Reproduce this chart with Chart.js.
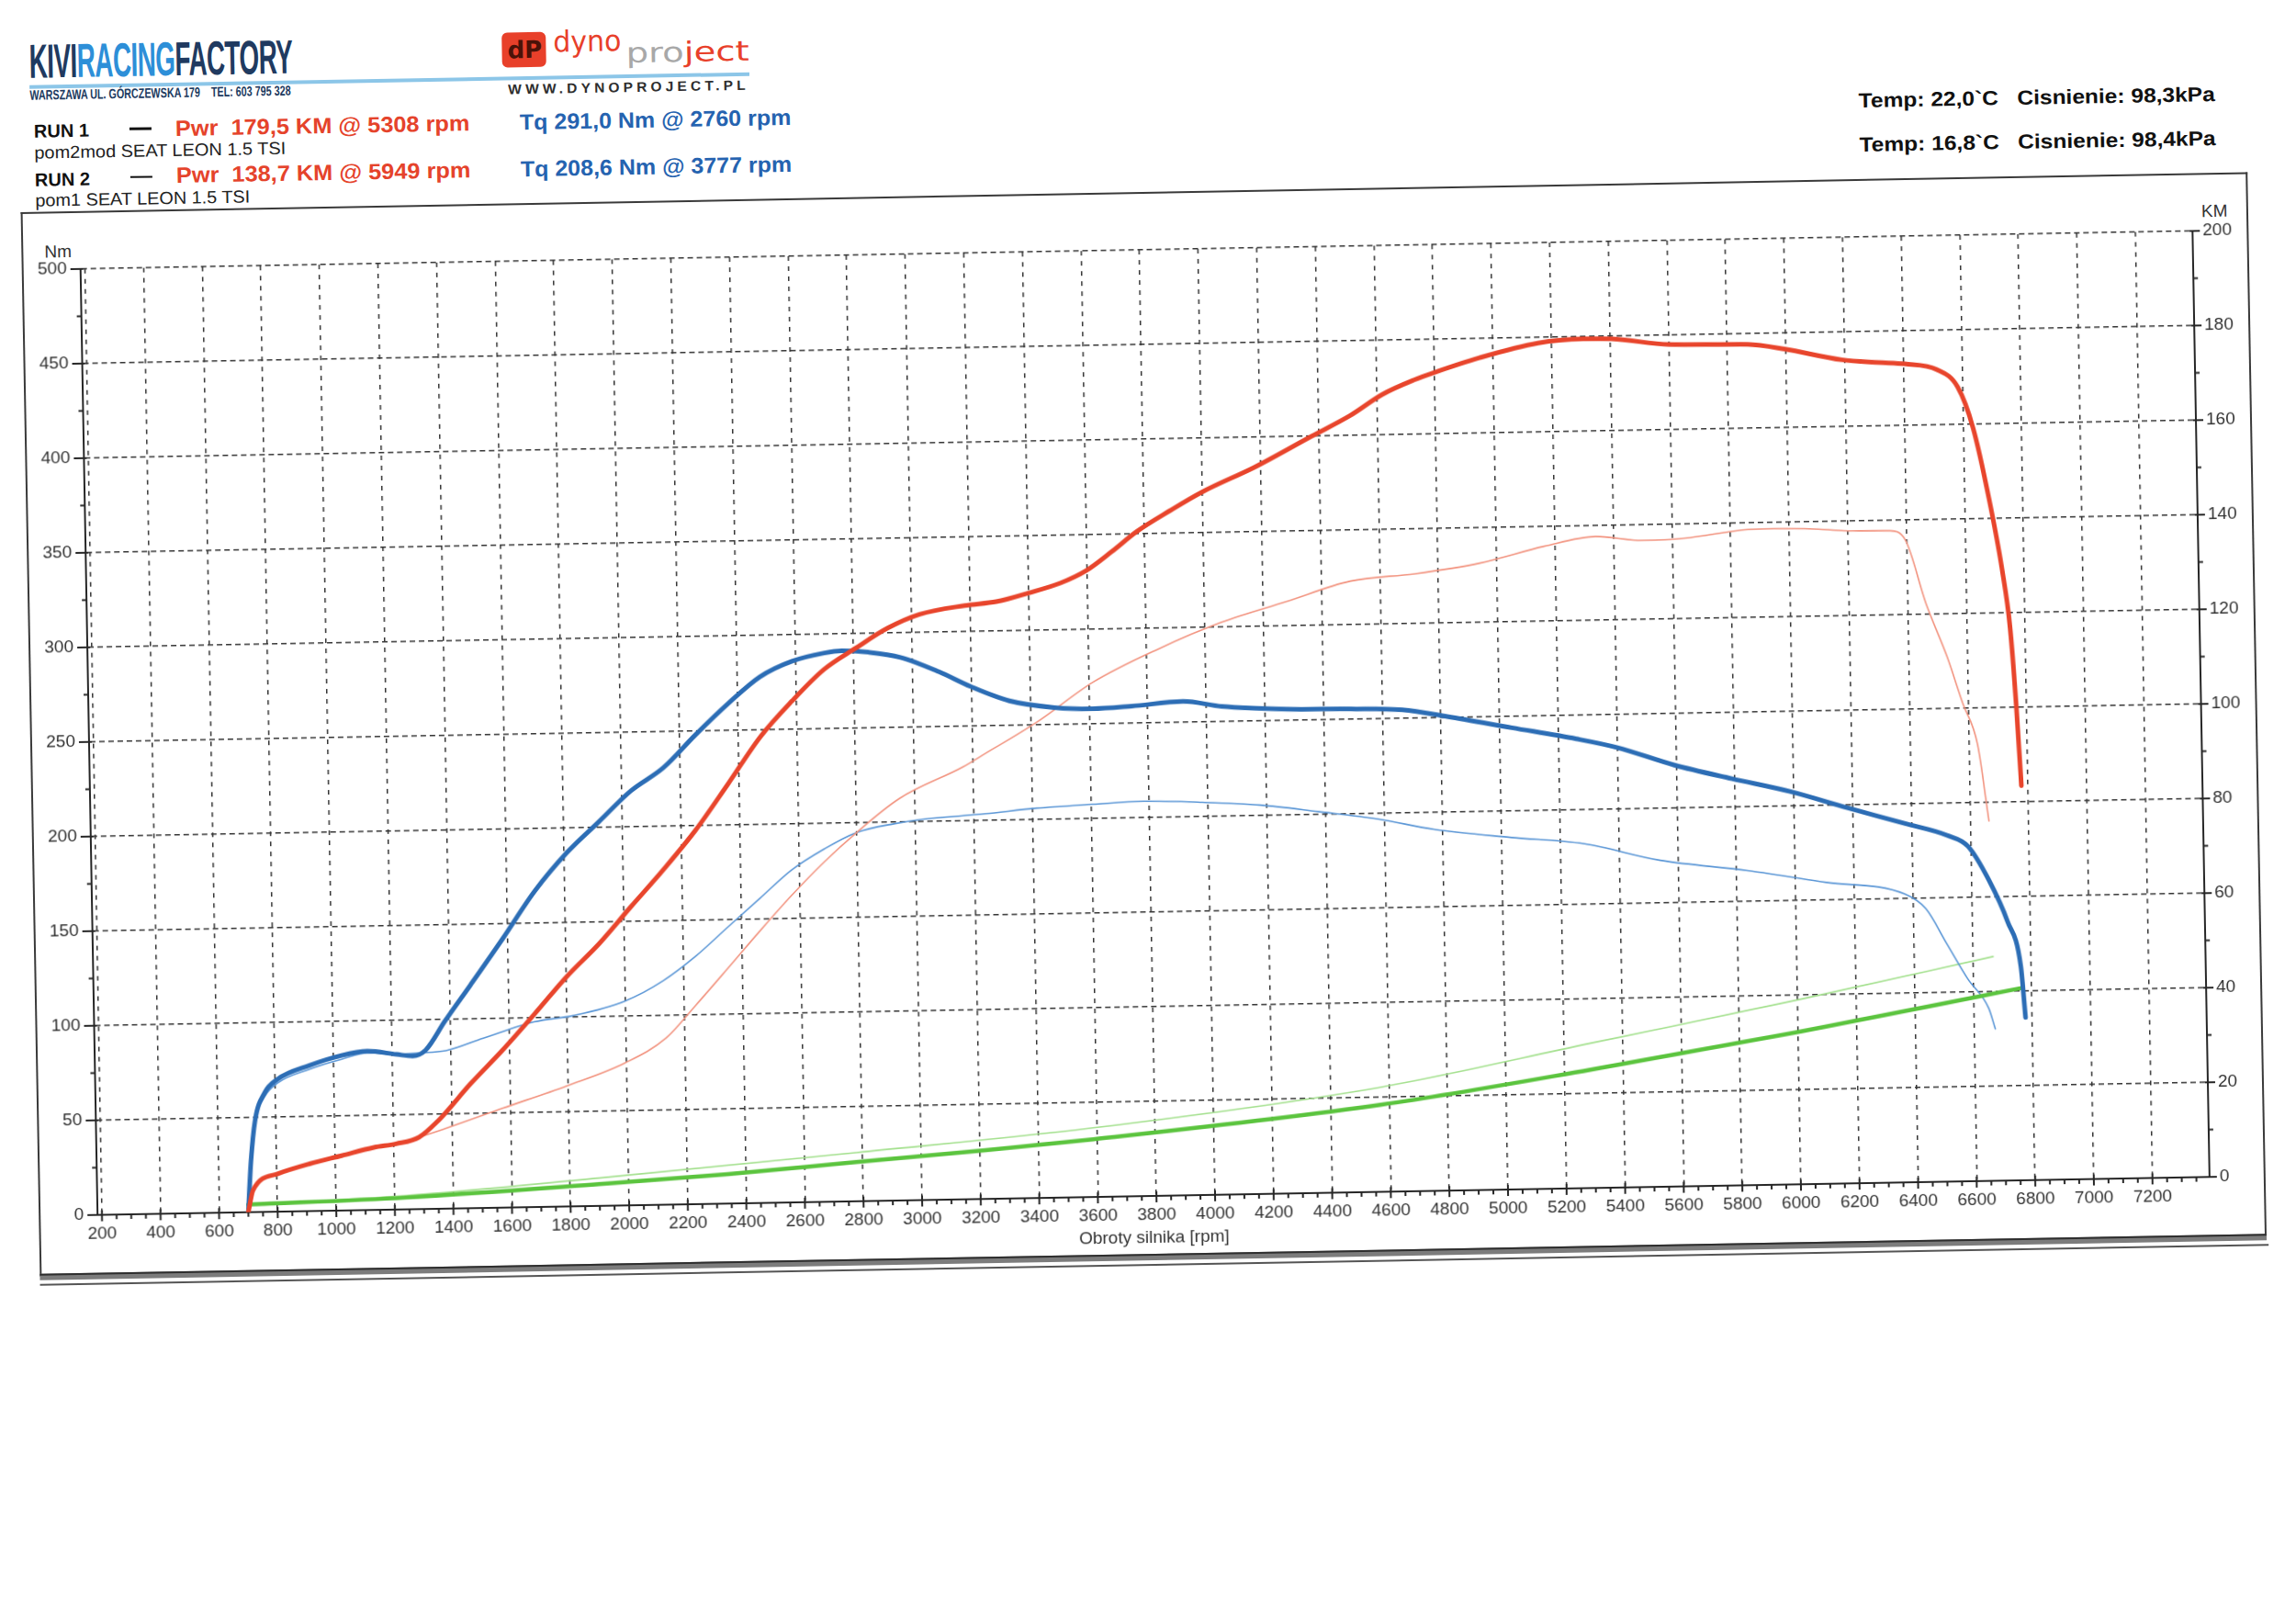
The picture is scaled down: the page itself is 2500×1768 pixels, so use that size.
<!DOCTYPE html>
<html>
<head>
<meta charset="utf-8">
<script src="https://cdn.jsdelivr.net/npm/chart.js@4.4.1/dist/chart.umd.min.js"></script>
<style>
html, body { margin: 0; padding: 0; background: #fff; }
body { width: 2500px; height: 1768px; overflow: hidden; position: relative; }
#page { position: absolute; left: 0; top: 0; width: 2500px; height: 1768px;
        transform-origin: 1250px 800px; transform: rotate(-1.03deg);
        font-family: "Liberation Sans", Arial, sans-serif; }
.t { position: absolute; white-space: nowrap; transform-origin: left center; }
.b { font-weight: bold; }
#frame { position: absolute; left: 33px; top: 209px; width: 2421px; height: 1157px;
         border: 2px solid #3a3a3a; border-bottom: none; }
#band { position: absolute; left: 33px; top: 1365px; width: 2425px; height: 5px;
        background: #7c7c7c; border-top: 2px solid #2e2e2e; }
#band2 { position: absolute; left: 33px; top: 1376px; width: 2427px; height: 2px; background: #555; }
#dyno { position: absolute; left: 33px; top: 209px; }
</style>
</head>
<body>
<div id="page">
  <div class="t b" data-w="287" style="left:45px;top:19px;font-size:52px;line-height:52px;font-family:'Liberation Sans Narrow','Liberation Sans',sans-serif;letter-spacing:-1px">
    <span style="color:#203a60">KIVI</span><span style="color:#2d8fd8">RACING</span><span style="color:#203a60">FACTORY</span></div>
  <div style="position:absolute;left:45px;top:71px;width:784px;height:4px;background:#8cc6e8"></div>
  <div class="t b" data-w="284" style="left:45px;top:74px;font-size:15px;line-height:15px;color:#203a60;font-family:'Liberation Sans Narrow','Liberation Sans',sans-serif">WARSZAWA UL. GÓRCZEWSKA 179&nbsp;&nbsp;&nbsp;&nbsp;TEL: 603 795 328</div>

  <div style="position:absolute;left:560px;top:23px;width:48px;height:38px;background:#e8402a;border-radius:6px"></div>
  <div class="t b" style="left:566px;top:27px;font-size:26px;line-height:30px;color:#4a1208;font-family:'DejaVu Sans',sans-serif">dP</div>
  <div class="t" data-w="74" style="left:616px;top:19px;font-size:32px;line-height:30px;color:#e8402a;font-family:'DejaVu Sans',sans-serif">dyno</div>
  <div class="t" data-w="134" style="left:695px;top:33px;font-size:30px;line-height:30px;font-family:'DejaVu Sans',sans-serif"><span style="color:#a8a8a8">pro</span><span style="color:#e8402a">ject</span></div>
  <div class="t b" data-w="263" style="left:566px;top:77px;font-size:15px;line-height:15px;color:#2e2e2e;letter-spacing:4px">WWW.DYNOPROJECT.PL</div>

  <div class="t b" style="left:49px;top:111px;font-size:20px;line-height:20px;color:#111">RUN 1</div>
  <div style="position:absolute;left:153px;top:119px;width:24px;height:3px;background:#111"></div>
  <div class="t b" data-w="321" style="left:203px;top:109px;font-size:24px;line-height:24px;color:#e5432b">Pwr&nbsp; 179,5 KM @ 5308 rpm</div>
  <div class="t b" data-w="296" style="left:578px;top:109px;font-size:24px;line-height:24px;color:#2563b0">Tq 291,0 Nm @ 2760 rpm</div>
  <div class="t" data-w="274" style="left:49px;top:135px;font-size:19px;line-height:19px;color:#222">pom2mod SEAT LEON 1.5 TSI</div>

  <div class="t b" style="left:49px;top:164px;font-size:20px;line-height:20px;color:#111">RUN 2</div>
  <div style="position:absolute;left:153px;top:172px;width:24px;height:1.5px;background:#111"></div>
  <div class="t b" data-w="321" style="left:203px;top:160px;font-size:24px;line-height:24px;color:#e5432b">Pwr&nbsp; 138,7 KM @ 5949 rpm</div>
  <div class="t b" data-w="296" style="left:578px;top:160px;font-size:24px;line-height:24px;color:#2563b0">Tq 208,6 Nm @ 3777 rpm</div>
  <div class="t" data-w="234" style="left:49px;top:187px;font-size:19px;line-height:19px;color:#222">pom1 SEAT LEON 1.5 TSI</div>

  <div class="t b" data-w="388" style="left:2036px;top:113px;font-size:22px;line-height:22px;color:#111">Temp: 22,0`C&nbsp;&nbsp; Cisnienie: 98,3kPa</div>
  <div class="t b" data-w="388" style="left:2036px;top:161px;font-size:22px;line-height:22px;color:#111">Temp: 16,8`C&nbsp;&nbsp; Cisnienie: 98,4kPa</div>

  <div id="frame"></div>
  <div id="band"></div>
  <div id="band2"></div>
  <div class="t" style="left:58px;top:243px;font-size:19px;line-height:19px;color:#333">Nm</div>
  <div class="t" style="left:2407px;top:241px;font-size:19px;line-height:19px;color:#333">KM</div>
  <canvas id="dyno" width="2423" height="1157"></canvas>
</div>
<script>
// RUN 1 (pom2mod) - thick lines
const run1PwrRpm = [700, 717, 802, 912, 1022, 1132, 1209, 1287, 1353, 1466, 1576, 1690, 1801, 1913, 2024, 2137, 2249, 2361, 2476, 2587, 2697, 2807, 2917, 3027, 3181, 3290, 3400, 3510, 3598, 3686, 3774, 3889, 3999, 4178, 4377, 4509, 4619, 4730, 4800, 4953, 5154, 5308, 5405, 5601, 5870, 5995, 6191, 6316, 6405, 6513, 6584, 6634, 6684, 6724, 6748, 6764, 6777];
const run1Pwr = [0, 4.6, 8, 10, 11.6, 13.2, 13.9, 15.2, 18.6, 26.3, 33.2, 40.9, 48.6, 55.4, 63.1, 70.8, 79, 88.5, 98.5, 106, 112.5, 116.9, 121, 123.8, 125.5, 126.2, 127.9, 129.9, 132.4, 136.3, 140.5, 144.8, 148.6, 153.6, 160, 164.2, 168.5, 171.5, 173, 175.9, 178.8, 179.5, 179.4, 178, 177.7, 176.6, 174.1, 173.4, 173, 171.7, 167.9, 159.2, 144.2, 129.3, 116.9, 100.8, 83.4];

const run1TqRpm = [700, 705, 712, 728, 763, 808, 918, 1028, 1116, 1215, 1270, 1315, 1382, 1472, 1584, 1697, 1809, 1920, 2031, 2144, 2255, 2367, 2478, 2589, 2699, 2760, 2850, 2959, 3090, 3196, 3328, 3481, 3612, 3745, 3921, 4053, 4273, 4493, 4669, 4822, 5041, 5261, 5398, 5594, 5789, 5986, 6182, 6378, 6520, 6591, 6660, 6721, 6764, 6777];
const run1Tq = [0, 12, 27, 48, 63, 70, 77, 82, 84, 82, 81, 84, 99, 118, 142, 167, 187, 203, 219, 231, 248, 264, 278, 286, 290, 291, 290, 287, 279, 271, 263, 259, 258, 259, 261, 258, 256, 255.5, 254.5, 250.5, 244, 237.5, 232.6, 222.7, 215, 207.7, 198.5, 189.6, 183, 177, 159, 137, 113, 86];

// RUN 2 (pom1) - thin lines
const run2PwrRpm = [700, 717, 802, 912, 1022, 1132, 1209, 1287, 1375, 1574, 1795, 1994, 2136, 2239, 2351, 2463, 2575, 2686, 2798, 2948, 3166, 3239, 3419, 3615, 3837, 4058, 4279, 4500, 4720, 4942, 5162, 5339, 5500, 5643, 5859, 5949, 6100, 6216, 6342, 6395, 6463, 6531, 6582, 6630, 6664];
const run2Pwr = [0, 4.6, 8, 10, 11.6, 13.2, 13.9, 15.2, 16.9, 21, 25.5, 30.1, 35.2, 42, 49.7, 57.5, 65, 71.8, 77.9, 85, 91.4, 94, 100.5, 108.8, 115.5, 121, 125.1, 129.2, 130.5, 132.5, 135.8, 137.7, 136.7, 137, 138.6, 138.7, 138.4, 137.9, 137.8, 135.9, 122.2, 111, 101, 92.3, 76.1];

const run2TqRpm = [700, 712, 728, 763, 808, 918, 1028, 1116, 1215, 1290, 1384, 1512, 1689, 1821, 1997, 2130, 2242, 2353, 2465, 2576, 2687, 2798, 2931, 3019, 3238, 3415, 3607, 3780, 3981, 4178, 4375, 4580, 4770, 5034, 5280, 5540, 5837, 6105, 6372, 6443, 6513, 6582, 6652, 6673];
const run2Tq = [0, 27, 47, 61, 68, 75, 80, 83, 82, 82.5, 83.5, 89.7, 97.9, 100.8, 107.9, 118.4, 131, 146, 161, 175.8, 186.4, 194.8, 199.2, 201.1, 203.5, 206, 207.5, 208.6, 207.5, 205.5, 201.5, 197, 191, 186, 182, 172.5, 166.3, 159.3, 152.4, 144.5, 125.7, 107, 91.2, 80.3];

// loss power curves (green)
const loss1Rpm = [700, 1239, 1899, 2338, 2779, 3218, 3587, 4570, 5288, 6008, 6770];
const loss1 = [1.6, 2.5, 4.6, 6.2, 8.3, 10.3, 12.2, 18.4, 25, 32.3, 40.7];
const loss2Rpm = [700, 1239, 1899, 2779, 3587, 4570, 5290, 6010, 6670];
const loss2 = [1.6, 2.9, 5.9, 10.3, 14.6, 22.1, 30.6, 39.1, 47.4];

const xTicks = [200, 400, 600, 800, 1000, 1200, 1400, 1600, 1800, 2000, 2200, 2400, 2600, 2800, 3000, 3200, 3400, 3600, 3800, 4000, 4200, 4400, 4600, 4800, 5000, 5200, 5400, 5600, 5800, 6000, 6200, 6400, 6600, 6800, 7000, 7200];

// squeeze header texts to the widths of the printout
document.querySelectorAll('[data-w]').forEach(el => {
    const w = +el.dataset.w;
    el.style.transform = 'scaleX(' + (w / el.offsetWidth).toFixed(3) + ')';
});

const pts = (xs, ys) => xs.map((x, i) => ({ x: x, y: ys[i] }));

// small axis ticks like on the printout
const tickMarks = {
    id: 'tickMarks',
    afterDraw(chart) {
        const { ctx, chartArea: a, scales } = chart;
        ctx.save();
        ctx.strokeStyle = '#262626';
        ctx.lineWidth = 2;
        ctx.beginPath();
        for (let v = 200; v <= 7350; v += 50) {
            const px = scales.x.getPixelForValue(v);
            const major = v % 200 === 0;
            ctx.moveTo(px, a.bottom - (major ? 5 : 0));
            ctx.lineTo(px, a.bottom + (major ? 7 : 5));
        }
        for (let v = 0; v <= 500; v += 25) {
            const py = scales.y.getPixelForValue(v);
            const major = v % 50 === 0;
            ctx.moveTo(a.left - (major ? 11 : 5), py);
            ctx.lineTo(a.left + (major ? 3 : 0), py);
        }
        for (let v = 0; v <= 200; v += 10) {
            const py = scales.y2.getPixelForValue(v);
            const major = v % 20 === 0;
            ctx.moveTo(a.right - (major ? 3 : 0), py);
            ctx.lineTo(a.right + (major ? 8 : 5), py);
        }
        ctx.stroke();
        ctx.restore();
    }
};

const tickFont = { family: '"Liberation Sans", Arial, sans-serif', size: 19 };
const plain = v => String(v);

new Chart(document.getElementById('dyno'), {
    type: 'line',
    data: {
        datasets: [
            { data: pts(run1PwrRpm, run1Pwr), yAxisID: 'y2', borderColor: '#e8452c', borderWidth: 5, order: 1 },
            { data: pts(run1TqRpm, run1Tq), yAxisID: 'y', borderColor: '#2c6db5', borderWidth: 5, order: 1 },
            { data: pts(loss1Rpm, loss1), yAxisID: 'y2', borderColor: '#5bc43e', borderWidth: 4.5, order: 2 },
            { data: pts(run2PwrRpm, run2Pwr), yAxisID: 'y2', borderColor: '#f2937f', borderWidth: 1.6, order: 3 },
            { data: pts(run2TqRpm, run2Tq), yAxisID: 'y', borderColor: '#5a96d6', borderWidth: 1.6, order: 3 },
            { data: pts(loss2Rpm, loss2), yAxisID: 'y2', borderColor: '#a3e08d', borderWidth: 1.6, order: 4 }
        ]
    },
    options: {
        responsive: false,
        animation: false,
        devicePixelRatio: 1,
        layout: { padding: { top: 63, left: 0, right: 0, bottom: 0 } },
        plugins: { legend: { display: false }, tooltip: { enabled: false } },
        elements: {
            point: { radius: 0 },
            line: { cubicInterpolationMode: 'monotone', borderCapStyle: 'round', borderJoinStyle: 'round' }
        },
        scales: {
            x: {
                type: 'linear',
                min: 185,
                max: 7395,
                afterBuildTicks: s => { s.ticks = xTicks.map(v => ({ value: v })); },
                afterFit: s => { s.height = 64; },
                grid: { color: '#333', lineWidth: 1.5, drawTicks: false },
                border: { display: true, color: '#262626', width: 2, dash: [5, 6] },
                ticks: { autoSkip: false, maxRotation: 0, padding: 9, color: '#333', font: tickFont, callback: plain },
                title: { display: true, text: 'Obroty silnika [rpm]', color: '#333', font: tickFont, padding: { top: 0, bottom: 7 } }
            },
            y: {
                position: 'left',
                min: 0,
                max: 500,
                afterFit: s => { s.width = 64; },
                grid: { color: '#333', lineWidth: 1.5, drawTicks: false },
                border: { display: true, color: '#262626', width: 2, dash: [6, 4] },
                ticks: { stepSize: 50, padding: 15, color: '#333', font: tickFont, callback: plain }
            },
            y2: {
                position: 'right',
                min: 0,
                max: 200,
                afterFit: s => { s.width = 59; },
                grid: { drawOnChartArea: false, drawTicks: false },
                border: { display: true, color: '#262626', width: 2 },
                ticks: { stepSize: 20, padding: 11, color: '#333', font: tickFont, callback: plain }
            }
        }
    },
    plugins: [tickMarks]
});
</script>
</body>
</html>
